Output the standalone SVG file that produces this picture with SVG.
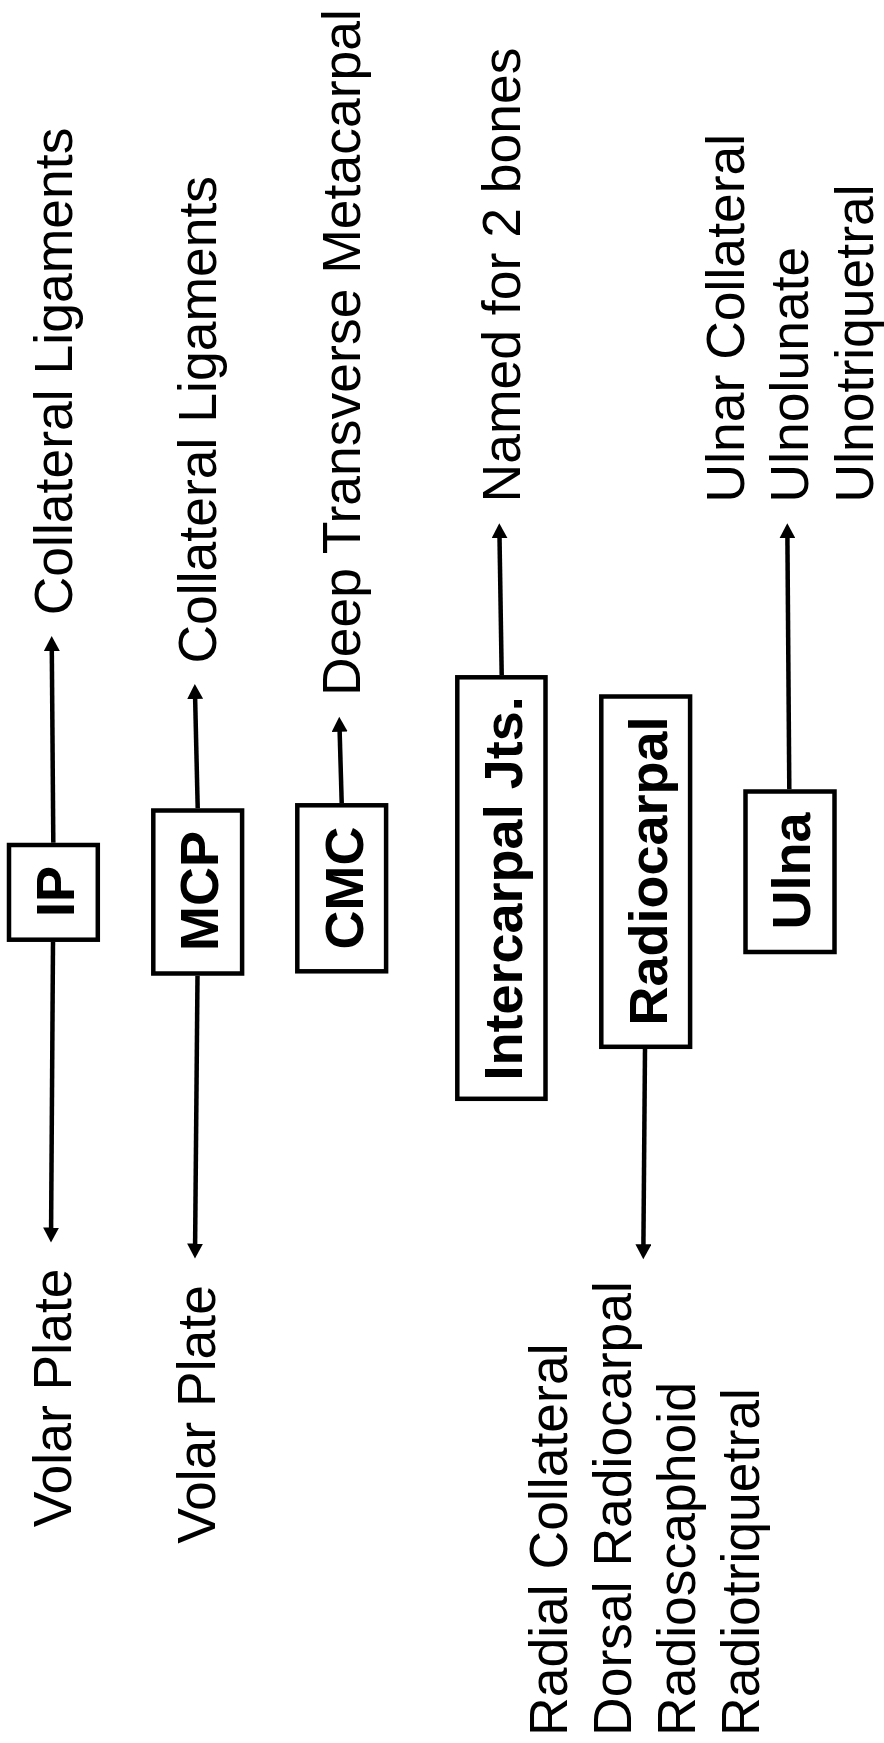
<svg xmlns="http://www.w3.org/2000/svg" width="884" height="1743" viewBox="0 0 884 1743">
<defs>
<style>
.box{fill:#fff;stroke:#000;stroke-width:4.5}
.lbl{font-family:"Liberation Sans",Arial,sans-serif;font-size:53.5px;fill:#000}
.bold{font-family:"Liberation Sans",Arial,sans-serif;font-size:54px;font-weight:bold;fill:#000;text-anchor:middle}
.conn{stroke:#000;stroke-width:4.5;fill:none;marker-end:url(#ah)}
</style>
<marker id="ah" markerUnits="userSpaceOnUse" markerWidth="16" markerHeight="16" refX="2" refY="8" orient="auto" viewBox="0 0 16 16">
<path d="M0,0 L15,8 L0,16 z" fill="#000"/>
</marker>
</defs>
<rect width="884" height="1743" fill="#fff"/>
<g id="connectors">
<path class="conn" d="M53.3,842.7 L51.8,649"/>
<path class="conn" d="M53,941.7 L51.1,1229.5"/>
<path class="conn" d="M197.7,808.3 L195.1,697"/>
<path class="conn" d="M197.5,975.7 L195.1,1245.5"/>
<path class="conn" d="M341.7,803 L339.6,729.7"/>
<path class="conn" d="M501.7,675 L499.5,536.3"/>
<path class="conn" d="M645,1049 L643.4,1246.3"/>
<path class="conn" d="M789.3,789.3 L787.4,536.3"/>
</g>
<g id="ip">
<rect class="box" x="9" y="845" width="88.8" height="94.7"/>
<text class="bold" transform="translate(74,891.5) rotate(-90)">IP</text>
</g>
<g id="mcp">
<rect class="box" x="153.3" y="810.5" width="88.8" height="163"/>
<text class="bold" transform="translate(218,891) rotate(-90)">MCP</text>
</g>
<g id="cmc">
<rect class="box" x="297.3" y="805.3" width="88.8" height="166"/>
<text class="bold" transform="translate(362.5,888) rotate(-90)">CMC</text>
</g>
<g id="intercarpal">
<rect class="box" x="457.3" y="677.3" width="88.2" height="421.5"/>
<text class="bold" transform="translate(521.7,888.4) rotate(-90)">Intercarpal Jts.</text>
</g>
<g id="radiocarpal">
<rect class="box" x="601.3" y="696.5" width="88.8" height="350.3"/>
<text class="bold" transform="translate(666.5,871) rotate(-90)">Radiocarpal</text>
</g>
<g id="ulna">
<rect class="box" x="745.5" y="791.5" width="89" height="160.5"/>
<text class="bold" transform="translate(810,871) rotate(-90)">Ulna</text>
</g>
<g id="ip-collateral"><text class="lbl" transform="translate(71.5,615.3) rotate(-90)">Collateral Ligaments</text></g>
<g id="ip-volar"><text class="lbl" transform="translate(71,1527.2) rotate(-90)">Volar Plate</text></g>
<g id="mcp-collateral"><text class="lbl" transform="translate(215.5,663.6) rotate(-90)">Collateral Ligaments</text></g>
<g id="mcp-volar"><text class="lbl" transform="translate(215,1543.8) rotate(-90)">Volar Plate</text></g>
<g id="cmc-deep"><text class="lbl" transform="translate(360,696) rotate(-90)">Deep Transverse Metacarpal</text></g>
<g id="intercarpal-named"><text class="lbl" transform="translate(519.5,502.5) rotate(-90)">Named for 2 bones</text></g>
<g id="radiocarpal-ligs">
<text class="lbl" transform="translate(567.3,1736) rotate(-90)">Radial Collateral</text>
<text class="lbl" transform="translate(630.7,1736) rotate(-90)">Dorsal Radiocarpal</text>
<text class="lbl" transform="translate(695,1736) rotate(-90)">Radioscaphoid</text>
<text class="lbl" transform="translate(759,1736) rotate(-90)">Radiotriquetral</text>
</g>
<g id="ulna-ligs">
<text class="lbl" transform="translate(743.5,502.5) rotate(-90)">Ulnar Collateral</text>
<text class="lbl" transform="translate(808,502.5) rotate(-90)">Ulnolunate</text>
<text class="lbl" transform="translate(872.5,502.5) rotate(-90)">Ulnotriquetral</text>
</g>
</svg>
